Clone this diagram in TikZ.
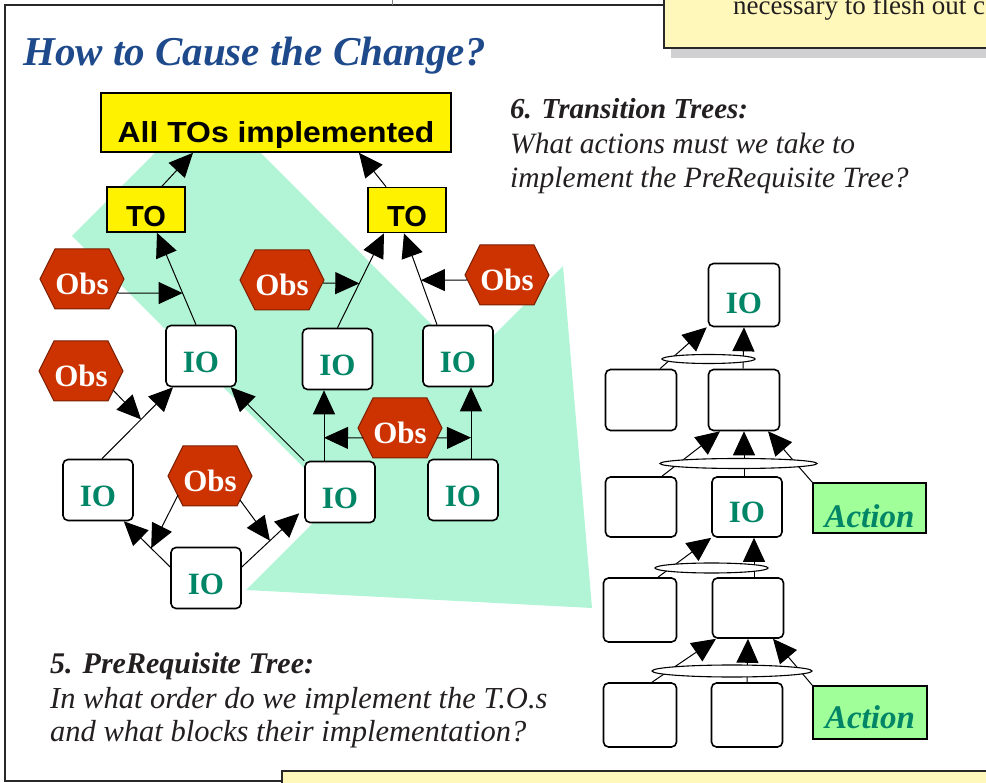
\documentclass[tikz,border=0pt]{standalone}
\usepackage{fontspec}
\setmainfont{Liberation Serif}
\setsansfont{Liberation Sans}
\newfontfamily\widesans[FakeStretch=1.1]{Liberation Sans}
\usetikzlibrary{arrows.meta,calc,shapes.symbols,shapes.geometric}

\definecolor{titleblue}{RGB}{30,74,140}
\definecolor{obsred}{RGB}{204,51,0}
\definecolor{iogreen}{RGB}{0,133,102}
\definecolor{actfill}{RGB}{160,255,153}
\definecolor{mint}{RGB}{178,245,214}
\definecolor{paleyellow}{RGB}{255,248,186}
\definecolor{shadowgrey}{RGB}{208,208,210}
\definecolor{framedark}{RGB}{40,40,40}
\definecolor{txtdark}{RGB}{35,31,32}

\newcommand\lowered[2]{\raisebox{-#1}[0pt][0pt]{#2}}

\tikzset{
  iobox/.style={draw=black, line width=1.6pt, fill=white, rounded corners=5pt,
    minimum width=70pt, minimum height=61pt, inner sep=0pt,
    font=\bfseries\fontsize{31}{31}\selectfont, text=iogreen},
  tobox/.style={draw=black, line width=1.6pt, fill=yellow, inner sep=0pt,
    font=\sffamily\bfseries\fontsize{29}{29}\selectfont, text=black},
  obs/.style={signal, signal to=east and west, signal pointer angle=127,
    fill=obsred, draw=obsred!60!black, line width=1pt,
    minimum width=84pt, minimum height=60pt, inner sep=0pt,
    text=white, font=\bfseries\fontsize{31}{31}\selectfont},
  act/.style={draw=black, line width=1.6pt, fill=actfill, inner sep=0pt,
    text=iogreen, font=\bfseries\itshape\fontsize{33}{33}\selectfont},
  conn/.style={line width=1pt, draw=black},
  arr/.style={conn, -{Triangle[length=24pt,width=22pt]}},
  andbar/.style={ellipse, draw=black, line width=1.1pt, fill=white, inner sep=0pt},
  caption/.style={anchor=base west, inner sep=0pt, text=txtdark,
    font=\itshape\fontsize{29.5}{29.5}\selectfont},
}

\begin{document}
\begin{tikzpicture}[x=1pt,y=-1pt]
\useasboundingbox (0,0) rectangle (986,783);
\clip (0,0) rectangle (986,783);

% shaded region
\fill[mint] (72,236) -- (157,151) -- (259,151) -- (468,361) -- (563,266)
  -- (592,608) -- (246,590) -- (336,500) -- cycle;

% frames and neighbouring boxes
\fill[shadowgrey] (671,0) rectangle (995,58);
\draw[framedark, line width=2.5pt, fill=paleyellow] (664,-10) rectangle (995,48);
\node[anchor=base west, inner sep=0pt, text=txtdark, font=\fontsize{27}{27}\selectfont]
  (topnote) at (733,15) {necessary to flesh out c};
\draw[framedark, line width=2.5pt] (664,5) -- (5,5) -- (5,781) -- (282,781);
\draw[gray, line width=0.8pt] (392,0) -- (392,5);
\draw[framedark, line width=2.5pt, fill=paleyellow] (282,771) rectangle (995,800);

% title
\node[anchor=base west, inner sep=0pt, text=titleblue,
  font=\bfseries\itshape\fontsize{41}{41}\selectfont] (title) at (23,66) {How to Cause the Change?};

% ---------- PreRequisite tree ----------
\node[tobox, minimum width=350pt, minimum height=59pt] (alltos) at (276,122.5)
  {\lowered{20.5pt}{\widesans\bfseries All TOs implemented}};
\node[tobox, minimum width=78pt, minimum height=45pt] (to1) at (146,209.5) {\lowered{17.5pt}{TO}};
\node[tobox, minimum width=78pt, minimum height=45pt] (to2) at (407,210) {\lowered{17pt}{TO}};

\node[iobox] (ioa) at (201,356) {\lowered{16.5pt}{IO}};
\node[iobox] (iob) at (337.5,359) {\lowered{16.5pt}{IO}};
\node[iobox] (ioc) at (458,356) {\lowered{16.5pt}{IO}};
\node[iobox] (iod) at (98,490) {\lowered{16.5pt}{IO}};
\node[iobox] (ioe) at (340,492) {\lowered{16.5pt}{IO}};
\node[iobox] (iof) at (463,490) {\lowered{16.5pt}{IO}};
\node[iobox] (iog) at (206,578) {\lowered{16.5pt}{IO}};

\node[obs] (obs1) at (82,279) {\lowered{15.5pt}{Obs}};
\node[obs] (obs2) at (282,280) {\lowered{15.5pt}{Obs}};
\node[obs] (obs3) at (507,275) {\lowered{15.5pt}{Obs}};
\node[obs] (obs4) at (81,371) {\lowered{15.5pt}{Obs}};
\node[obs] (obs5) at (210,476) {\lowered{15.5pt}{Obs}};
\node[obs] (obs6) at (400,428) {\lowered{15.5pt}{Obs}};

\draw[arr] ($(to1.north)+(16,0)$) -- ($(alltos.south)+(-83,0)$);
\draw[arr] ($(to2.north)+(-21,0)$) -- ($(alltos.south)+(83,0)$);
\draw[arr] ($(ioa.north)+(-5,0)$) -- ($(to1.south)+(11,0)$) coordinate[pos=0.344] (m1);
\draw[arr] (iob.north) -- ($(to2.south)+(-23,0)$) coordinate[pos=0.469] (m2);
\draw[arr] ($(ioc.north)+(-21,0)$) -- ($(to2.south)+(-3,0)$) coordinate[pos=0.487] (m3);
\draw[arr] ($(iod.north)+(4,0)$) -- ($(ioa.south)+(-28,0)$) coordinate[pos=0.55] (m4);
\draw[arr] (ioe.north west) -- ($(ioa.south east)+(-6,0)$);
\draw[arr] ($(iog.west)+(0,-11)$) -- ($(iod.south east)+(-10,0)$) coordinate[pos=0.41] (m5);
\draw[arr] ($(iog.east)+(0,-11)$) -- ($(ioe.south west)+(-5,-10)$) coordinate[pos=0.49] (m6);
\draw[arr] ($(ioe.north)+(-16,0)$) -- ($(iob.south)+(-13.5,0)$) coordinate[pos=0.326] (m7);
\draw[arr] ($(iof.north)+(8,0)$) -- ($(ioc.south)+(13,0)$) coordinate[pos=0.295] (m8);

\draw[arr] ($(obs1.center)+(35,14)$) -- (m1);
\draw[arr] ($(obs2.east)+(-1.5,3)$) -- (m2);
\draw[arr] ($(obs3.west)+(2.5,5)$) -- (m3);
\draw[arr] ($(obs4.center)+(32,19)$) -- (m4);
\draw[arr] ($(obs5.center)+(-32,19)$) -- (m5);
\draw[arr] ($(obs5.center)+(30,24)$) -- (m6);
\draw[arr] ($(obs6.center)+(-37,10)$) -- (m7);
\draw[arr] ($(obs6.center)+(37,10)$) -- (m8);

% ---------- Transition tree ----------
\node[iobox, minimum width=71pt, minimum height=63pt] (tio) at (744,295) {\lowered{19pt}{IO}};
\node[iobox, minimum width=71pt] (r2l) at (641,400) {};
\node[iobox, minimum width=71pt] (r2r) at (744,400) {};
\node[iobox, minimum width=71pt, minimum height=60pt] (r3l) at (641,507) {};
\node[iobox, minimum height=60pt] (r3r) at (747,507) {\lowered{16pt}{IO}};
\node[act, minimum width=113pt, minimum height=50pt] (act1) at (869.5,508) {\lowered{20pt}{Action}};
\node[iobox, minimum width=73pt, minimum height=64pt] (r4l) at (640,610) {};
\node[iobox, minimum width=71pt, minimum height=60pt] (r4r) at (748,608) {};
\node[iobox, minimum width=73pt, minimum height=64pt] (r5l) at (640,715) {};
\node[iobox, minimum width=71pt, minimum height=64pt] (r5r) at (747,715) {};
\node[act, minimum width=114pt, minimum height=53pt] (act2) at (870,712.5) {\lowered{16pt}{Action}};

\draw[arr] ($(r2l.north)+(19,0)$) -- ($(tio.south west)+(-1,0)$);
\draw[arr] ($(r2r.north)+(-1,0)$) -- (tio.south);
\draw[arr] ($(r3l.north)+(21,0)$) -- ($(r2r.south)+(-24,0)$);
\draw[arr] ($(r3r.north)+(-3,0)$) -- (r2r.south);
\draw[arr] (act1.north west) -- ($(r2r.south)+(24,0)$);
\draw[arr] ($(r4l.north)+(18,0)$) -- (r3r.south west);
\draw[arr] ($(r4r.north)+(6,0)$) -- ($(r3r.south)+(7,0)$);
\draw[arr] ($(r5l.north)+(12,0)$) -- ($(r4r.south)+(-32,0)$);
\draw[arr] (r5r.north) -- (r4r.south);
\draw[arr] (act2.north west) -- ($(r4r.south)+(25,0)$);

\node[andbar, minimum width=93pt, minimum height=9pt] (andA) at (708.5,359) {};
\node[andbar, minimum width=157pt, minimum height=10pt] (andB) at (738.5,463.5) {};
\node[andbar, minimum width=113pt, minimum height=10pt] (andC) at (711.5,568) {};
\node[andbar, minimum width=160pt, minimum height=12pt] (andD) at (732,671) {};

% ---------- captions ----------
\node[caption, font=\bfseries\itshape\fontsize{29}{29}\selectfont] (cap6a) at (510,119) {6. Transition Trees:};
\node[caption] (cap6b) at (510,154) {What actions must we take to};
\node[caption] (cap6c) at (510,188) {implement the PreRequisite Tree?};
\node[caption, font=\bfseries\itshape\fontsize{30}{30}\selectfont] (cap5a) at (50,673) {5. PreRequisite Tree:};
\node[caption, font=\itshape\fontsize{30.5}{30.5}\selectfont] (cap5b) at (50,708) {In what order do we implement the T.O.s};
\node[caption, font=\itshape\fontsize{30.5}{30.5}\selectfont] (cap5c) at (50,741) {and what blocks their implementation?};
\end{tikzpicture}
\end{document}
